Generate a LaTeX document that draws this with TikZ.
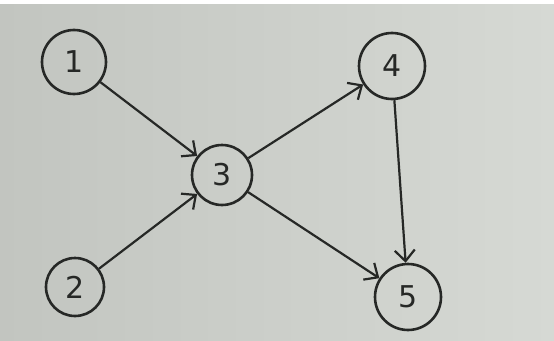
\documentclass[tikz,border=0pt]{standalone}
\usepackage{fontspec}
\setmainfont{DejaVu Sans}
\usetikzlibrary{arrows.meta,shadings}
\definecolor{ink}{HTML}{262826}
\definecolor{paperL}{HTML}{C2C5C0}
\definecolor{paperR}{HTML}{D6D9D4}
\tikzset{
  vertex/.style={circle, draw=ink, line width=2.6pt, minimum size=62pt, inner sep=0pt,
    text=ink, font=\fontsize{30}{30}\selectfont},
  edge/.style={draw=ink, line width=2.2pt,
    -{Straight Barb[length=11pt, width=20pt, line width=2.2pt]}},
}
\begin{document}
\begin{tikzpicture}[x=1pt, y=-1pt]
  % paper background
  \shade[left color=paperL, right color=paperR] (0,0) rectangle (554,340);
  \fill[white] (0,0) rectangle (554,4);
  \useasboundingbox (0,0) rectangle (554,340);

  % vertices
  \node[vertex, minimum size=64pt] (n1) at (74,62) {1};
  \node[vertex, minimum size=58pt] (n2) at (75,287) {2};
  \node[vertex, minimum size=60pt] (n3) at (222,175) {3};
  \node[vertex, minimum size=66pt] (n4) at (392,66) {4};
  \node[vertex, minimum size=66pt] (n5) at (408,297) {5};

  % directed edges
  \draw[edge] (n1) -- (n3);
  \draw[edge] (n2) -- (n3);
  \draw[edge] (n3) -- (n4);
  \draw[edge] (n4) -- (n5);
  \draw[edge] (n3) -- (n5);
\end{tikzpicture}
\end{document}
